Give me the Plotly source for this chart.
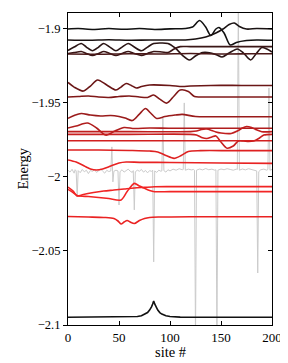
import plotly.graph_objects as go

# ---------------- data ----------------
sites_A = [0, 10, 25, 40, 55, 70, 85, 100, 115, 122, 129, 135, 140, 145, 148, 153, 159, 165, 175, 185, 200]
E_A = [-1.9002, -1.8999, -1.9005, -1.8999, -1.9004, -1.8999, -1.9005, -1.9001, -1.8999, -1.8989, -1.8945,
       -1.8989, -1.9046, -1.9002, -1.8992, -1.9029, -1.9110, -1.9093, -1.9080, -1.9076, -1.9078]

sites_B = [0, 20, 40, 60, 80, 100, 115, 125, 135, 145, 152, 158, 163, 168, 175, 185, 200]
E_B = [-1.9076, -1.9078, -1.9075, -1.9078, -1.9076, -1.9076, -1.9076, -1.9070, -1.9056, -1.9029, -1.9002,
       -1.8972, -1.8962, -1.8985, -1.9002, -1.8999, -1.9002]

sites_C = [0, 6, 13, 18, 24, 30, 35, 41, 47, 53, 59, 65, 72, 78, 84, 91, 98, 105, 112, 119, 125, 132, 140,
           146, 151, 158, 166, 172, 179, 185, 190, 195, 200]
E_C = [-1.9147, -1.9124, -1.9100, -1.9124, -1.9149, -1.9124, -1.9100, -1.9124, -1.9149, -1.9124, -1.9100,
       -1.9124, -1.9149, -1.9124, -1.9100, -1.9097, -1.9100, -1.9130, -1.9178, -1.9211, -1.9184, -1.9161,
       -1.9164, -1.9178, -1.9191, -1.9164, -1.9137, -1.9164, -1.9211, -1.9164, -1.9127, -1.9137, -1.9157]

sites_D = [0, 6, 13, 18, 24, 30, 35, 41, 47, 53, 59, 65, 72, 78, 84, 92, 98, 104, 110, 120, 150, 200]
E_D = [-1.9167, -1.9161, -1.9154, -1.9167, -1.9181, -1.9167, -1.9154, -1.9167, -1.9181, -1.9167, -1.9154,
       -1.9167, -1.9181, -1.9167, -1.9154, -1.9157, -1.9161, -1.9137, -1.9121, -1.9121, -1.9121, -1.9121]

sites_E = [0, 30, 60, 90, 120, 150, 180, 200]
E_E = [-1.9171, -1.9172, -1.9169, -1.9171, -1.9167, -1.9171, -1.9169, -1.9169]

sites_F = [0, 6, 15, 22, 29, 38, 47, 52, 57, 62, 67, 72, 80, 100, 112, 120, 140, 170, 200]
E_F = [-1.9363, -1.9394, -1.9421, -1.9387, -1.9346, -1.9380, -1.9414, -1.9394, -1.9370, -1.9383, -1.9400,
       -1.9390, -1.9380, -1.9383, -1.9390, -1.9387, -1.9383, -1.9383, -1.9383]

sites_G = [0, 10, 20, 30, 40, 50, 60, 70, 78, 84, 90, 97, 104, 110, 118, 124, 130, 160, 200]
E_G = [-1.9461, -1.9458, -1.9454, -1.9461, -1.9464, -1.9458, -1.9454, -1.9461, -1.9464, -1.9448, -1.9475,
       -1.9502, -1.9454, -1.9414, -1.9424, -1.9458, -1.9461, -1.9461, -1.9461]

sites_H = [0, 6, 13, 22, 32, 42, 50, 56, 63, 70, 76, 81, 87, 95, 105, 112, 125, 150, 200]
E_H = [-1.9605, -1.9586, -1.9572, -1.9583, -1.9589, -1.9586, -1.9593, -1.9603, -1.9620, -1.9576, -1.9539,
       -1.9569, -1.9606, -1.9593, -1.9583, -1.9578, -1.9593, -1.9594, -1.9594]

sites_I = [0, 8, 19, 28, 37, 46, 55, 65, 80, 100, 130, 160, 200]
E_I = [-1.9670, -1.9657, -1.9637, -1.9670, -1.9718, -1.9691, -1.9667, -1.9674, -1.9670, -1.9672, -1.9672,
       -1.9672, -1.9672]

sites_J = [0, 60, 120, 126, 131, 136, 141, 145, 150, 160, 166, 171, 175, 180, 184, 190, 200]
E_J = [-1.9695, -1.9695, -1.9695, -1.9691, -1.9680, -1.9677, -1.9687, -1.9697, -1.9704, -1.9707, -1.9691,
       -1.9670, -1.9660, -1.9667, -1.9680, -1.9695, -1.9695]

sites_K = [0, 60, 120, 126, 131, 136, 141, 145, 150, 156, 162, 167, 172, 177, 182, 187, 192, 200]
E_K = [-1.9713, -1.9713, -1.9713, -1.9718, -1.9734, -1.9741, -1.9731, -1.9724, -1.9765, -1.9807, -1.9792,
       -1.9758, -1.9758, -1.9761, -1.9758, -1.9741, -1.9718, -1.9713]

sites_L = [0, 50, 100, 150, 200]
E_L = [-1.9756, -1.9756, -1.9756, -1.9756, -1.9756]

sites_M = [0, 30, 60, 80, 88, 96, 104, 111, 118, 130, 160, 200]
E_M = [-1.9819, -1.9819, -1.9822, -1.9826, -1.9832, -1.9856, -1.9875, -1.9856, -1.9829, -1.9823, -1.9823,
       -1.9823]

sites_N = [0, 8, 16, 22, 28, 34, 42, 50, 57, 70, 100, 150, 200]
E_N = [-1.9886, -1.9900, -1.9927, -1.9947, -1.9954, -1.9947, -1.9927, -1.9907, -1.9900, -1.9902, -1.9903,
       -1.9907, -1.9909]

sites_P = [0, 5, 9, 15, 25, 35, 45, 55, 65, 75, 85, 100, 150, 200]
E_P = [-2.0069, -2.0096, -2.0129, -2.0119, -2.0106, -2.0096, -2.0089, -2.0082, -2.0075, -2.0071, -2.0067,
       -2.0066, -2.0066, -2.0066]

sites_Q = [0, 5, 9, 20, 30, 40, 52, 58, 65, 70, 75, 80, 85, 100, 150, 200]
E_Q = [-2.0085, -2.0106, -2.0126, -2.0133, -2.0139, -2.0146, -2.0156, -2.0099, -2.0044, -2.0062, -2.0077,
       -2.0092, -2.0100, -2.0100, -2.0100, -2.0100]

sites_R = [0, 20, 35, 45, 49, 52, 55, 58, 61, 65, 70, 75, 80, 90, 120, 160, 200]
E_R = [-2.0268, -2.0271, -2.0274, -2.0281, -2.0298, -2.0318, -2.0305, -2.0295, -2.0305, -2.0315, -2.0295,
       -2.0281, -2.0274, -2.0271, -2.0269, -2.0269, -2.0269]

sites_S = [0, 40, 60, 68, 72, 76, 78, 80, 81, 82, 83, 84, 85, 86, 87, 88, 90, 92, 96, 100, 110, 150, 200]
E_S = [-2.0948, -2.0947, -2.0947, -2.0943, -2.0938, -2.0926, -2.0916, -2.0899, -2.0889, -2.0876, -2.0858,
       -2.0838, -2.0858, -2.0876, -2.0889, -2.0899, -2.0916, -2.0926, -2.0938, -2.0943, -2.0947, -2.0948,
       -2.0948]

sites_grey = [0, 2, 4, 6, 7, 8, 9, 10, 12, 14, 16, 18, 20, 22, 24, 26, 28, 30, 32, 34, 36, 38, 40, 42, 43,
              44, 45, 47, 49, 50, 51, 53, 55, 57, 59, 61, 63, 64, 65, 66, 68, 70, 72, 74, 76, 78, 80, 82, 83,
              84, 85, 87, 89, 91, 92, 93, 94, 96, 98, 100, 103, 106, 109, 112, 113, 114, 115, 118, 121, 123,
              124, 125, 126, 129, 132, 135, 138, 141, 144, 145, 146, 147, 150, 153, 156, 159, 162, 165, 166,
              167, 168, 171, 174, 177, 180, 183, 185, 186, 187, 189, 192, 195, 196, 197, 198, 200]
E_grey = [-1.9955, -1.9968, -1.9949, -1.9975, -1.9952, -1.9960, -2.0136, -1.9958, -1.9972, -1.9950, -1.9966,
          -1.9955, -1.9978, -1.9957, -1.9963, -1.9952, -1.9970, -1.9958, -1.9947, -1.9962, -1.9975, -1.9956,
          -1.9964, -1.9960, -1.9798, -2.0034, -1.9962, -1.9955, -1.9960, -2.0190, -1.9965, -1.9952, -1.9968,
          -1.9958, -1.9948, -1.9962, -1.9970, -1.9958, -2.0223, -1.9966, -1.9955, -1.9962, -1.9950, -1.9968,
          -1.9957, -1.9973, -1.9958, -1.9963, -1.9955, -2.0574, -1.9960, -1.9970, -1.9955, -1.9962, -1.9960,
          -1.9603, -1.9958, -1.9968, -1.9952, -1.9960, -1.9948, -1.9955, -1.9945, -1.9952, -1.9950, -1.9501,
          -1.9955, -1.9948, -1.9953, -1.9950, -1.9955, -2.1100, -1.9955, -1.9947, -1.9953, -1.9944, -1.9952,
          -1.9948, -1.9955, -1.9952, -2.1100, -1.9955, -1.9947, -1.9952, -1.9945, -1.9950, -1.9955, -1.9948,
          -1.9950, -1.8800, -1.9955, -1.9947, -1.9953, -1.9945, -1.9950, -1.9955, -1.9960, -2.0649, -1.9965,
          -1.9952, -1.9948, -1.9955, -1.9950, -1.9400, -1.9955, -1.9950]

x_tickvals = [0, 50, 100, 150, 200]
x_ticktext = ["0", "50", "100", "150", "200"]
y_tickvals = [-2.1, -2.05, -2.0, -1.95, -1.9]
y_ticktext = ["\u22122.1", "\u22122.05", "\u22122", "\u22121.95", "\u22121.9"]
y_range = [-2.1, -1.8894]

# ---------------- figure ----------------
curves = [
    (sites_A, E_A, "#111111", "spline"),
    (sites_B, E_B, "#1a1212", "spline"),
    (sites_C, E_C, "#2a1414", "spline"),
    (sites_D, E_D, "#3a1616", "spline"),
    (sites_E, E_E, "#4a1818", "spline"),
    (sites_F, E_F, "#6a1616", "spline"),
    (sites_G, E_G, "#801818", "spline"),
    (sites_H, E_H, "#9a1b1b", "spline"),
    (sites_I, E_I, "#b01d1d", "spline"),
    (sites_J, E_J, "#c01e1e", "spline"),
    (sites_K, E_K, "#c81f1f", "spline"),
    (sites_L, E_L, "#d22020", "linear"),
    (sites_M, E_M, "#de2121", "spline"),
    (sites_N, E_N, "#e82222", "spline"),
    (sites_P, E_P, "#f02424", "spline"),
    (sites_Q, E_Q, "#f22525", "spline"),
    (sites_R, E_R, "#ea2222", "spline"),
]

fig = go.Figure()
fig.add_trace(go.Scatter(x=sites_grey, y=E_grey, mode="lines",
                         line=dict(color="#cbcbcb", width=1), hoverinfo="skip"))
for xs, ys, col, shape in curves:
    fig.add_trace(go.Scatter(x=xs, y=ys, mode="lines",
                             line=dict(color=col, width=1.6, shape=shape, smoothing=0.8)))
# ground state drawn on the (identical) right-hand axis so that axis shows its inside ticks
fig.add_trace(go.Scatter(x=sites_S, y=E_S, mode="lines", yaxis="y2",
                         line=dict(color="#111111", width=1.6)))

font_family = "Liberation Serif"
# the page body adds an 8px margin on the left/top, so the figure is 8px smaller
fig.update_layout(
    width=280, height=355,
    margin=dict(l=60, r=16, t=5, b=38),
    paper_bgcolor="white", plot_bgcolor="white",
    showlegend=False,
    font=dict(family=font_family, size=13, color="black"),
    xaxis=dict(range=[0, 200], tickvals=x_tickvals, ticktext=x_ticktext,
               ticks="inside", ticklen=4, tickwidth=1, tickcolor="black",
               showline=True, linecolor="black", linewidth=1, mirror="ticks",
               showgrid=False, zeroline=False, tickfont=dict(size=13), automargin=False),
    yaxis=dict(range=y_range, tickvals=y_tickvals, ticktext=y_ticktext,
               ticks="outside", ticklen=4, tickwidth=1, tickcolor="black",
               showline=True, linecolor="black", linewidth=1, mirror=False,
               showgrid=False, zeroline=False, tickfont=dict(size=12.5), automargin=False),
    yaxis2=dict(range=y_range, tickvals=y_tickvals, overlaying="y", side="right",
                ticks="inside", ticklen=4, tickwidth=1, tickcolor="black", showticklabels=False,
                showline=True, linecolor="black", linewidth=1,
                showgrid=False, zeroline=False, automargin=False),
    annotations=[
        dict(text="Energy", xref="paper", yref="paper", x=0, y=0.5, xanchor="center", yanchor="middle",
             xshift=-45.5, textangle=-90, showarrow=False, font=dict(size=14.5)),
        dict(text="site #", xref="paper", yref="paper", x=0.5, y=0, xanchor="center", yanchor="middle",
             yshift=-27, showarrow=False, font=dict(size=14.5)),
    ],
)

fig.write_html("out.html")
